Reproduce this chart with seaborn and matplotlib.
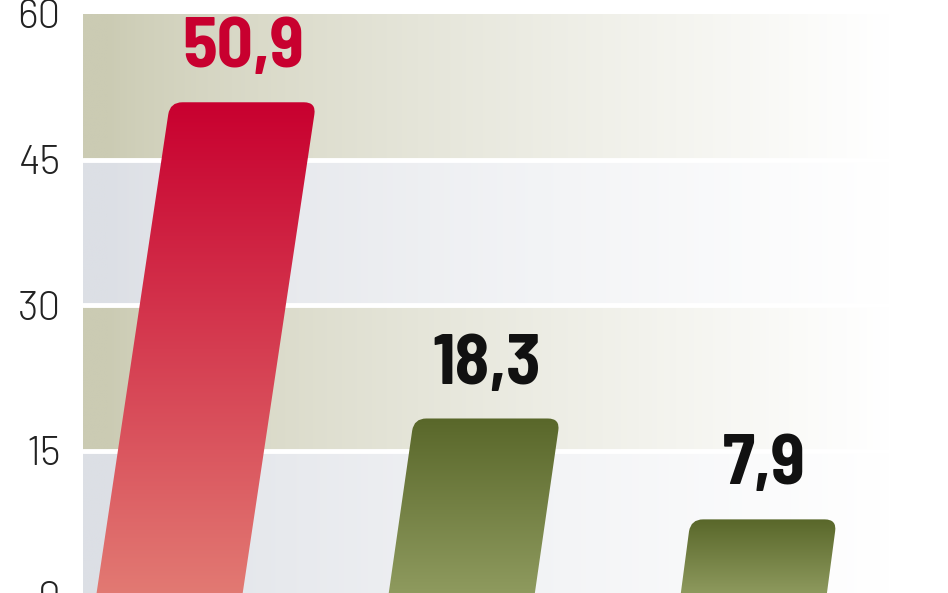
import matplotlib
matplotlib.use("Agg")
from matplotlib import pyplot as plt
from matplotlib.path import Path
from matplotlib.patches import PathPatch
from matplotlib.colors import to_rgb
import numpy as np
import seaborn as sns

# data
categories = ["A", "B", "C"]
values = [50.9, 18.3, 7.9]
value_labels = ["50,9", "18,3", "7,9"]
bar_tops = ["#c8002f", "#59672a", "#59672a"]
bar_bottoms = ["#e27a73", "#8f9b5f", "#8f9b5f"]
label_colors = ["#c8002f", "#111111", "#111111"]
y_ticks = [0, 15, 30, 45, 60]

SLANT = 0.00507  # x shift (category units) per unit of y
RX, RY = 0.042, 1.25  # corner radius

sns.set_theme(style="white")
fig = plt.figure(figsize=(9.48, 5.93), dpi=100)
ax = fig.add_axes([83 / 948, -3 / 593, 1 - 83 / 948, 582 / 593])

ax = sns.barplot(x=categories, y=values, width=0.5, ax=ax, color="#888888")
ax.set_xlim(-0.29, 2.67)
ax.set_ylim(0, 60)


def fade(color, n=400, solid=0.03, end=0.93):
    # horizontal fade from color to white
    c = np.array(to_rgb(color))
    t = np.linspace(0, 1, n)
    k = np.clip((t - solid) / (end - solid), 0, 1) ** 0.75
    row = c[None, :] * (1 - k[:, None]) + k[:, None]
    return row[None, :, :]


band_colors = ["#dcdfe5", "#cbcbb3", "#dcdfe5", "#cbcbb3"]
x0, x1 = ax.get_xlim()
for lo, col in zip(y_ticks[:-1], band_colors):
    ax.imshow(fade(col), extent=[x0, x1, lo, lo + 15], aspect="auto",
              zorder=0, interpolation="bilinear")
for y in y_ticks[1:-1]:
    ax.axhline(y, color="white", lw=3.5, zorder=1)

for p, top, bot, lab, lc in zip(ax.patches, bar_tops, bar_bottoms,
                                value_labels, label_colors):
    p.set_visible(False)
    xl = p.get_x()
    w = p.get_width()
    h = p.get_height()
    xr = xl + w
    verts = [
        (xl, -1), (xr, -1),
        (xr + SLANT * (h - RY), h - RY),
        (xr + SLANT * h, h), (xr + SLANT * h - RX, h),
        (xl + SLANT * h + RX, h),
        (xl + SLANT * h, h), (xl + SLANT * (h - RY), h - RY),
        (xl, -1),
    ]
    codes = [Path.MOVETO, Path.LINETO, Path.LINETO,
             Path.CURVE3, Path.CURVE3, Path.LINETO,
             Path.CURVE3, Path.CURVE3, Path.CLOSEPOLY]
    shape = PathPatch(Path(verts, codes), facecolor="none", edgecolor="none")
    ax.add_patch(shape)
    ct, cb = np.array(to_rgb(top)), np.array(to_rgb(bot))
    t = np.linspace(0, 1, 200)[:, None]
    grad = (ct * (1 - t) + cb * t)[:, None, :]
    im = ax.imshow(grad, extent=[xl, xr + SLANT * h, 0, h], aspect="auto",
                   zorder=3, interpolation="bilinear")
    im.set_clip_path(shape)
    ax.text(xl + w / 2 + SLANT * h, h + 3.6, lab, ha="center", va="baseline",
            fontsize=51, fontweight="bold", color=lc, zorder=4,
            family=["Barlow Semi Condensed", "DejaVu Sans"])

ax.set_xlim(x0, x1)
ax.set_ylim(0, 60)
ax.set_yticks(y_ticks)
ax.set_yticklabels([str(v) for v in y_ticks], fontsize=29, color="#222222",
                   family=["Barlow", "DejaVu Sans"], fontweight=300)
ax.tick_params(axis="y", length=0, pad=16)
ax.set_xticks([])
ax.set_xlabel("")
ax.set_ylabel("")
sns.despine(ax=ax, left=True, bottom=True)
ax.set_facecolor("white")

fig.savefig("out.png", dpi=100)
